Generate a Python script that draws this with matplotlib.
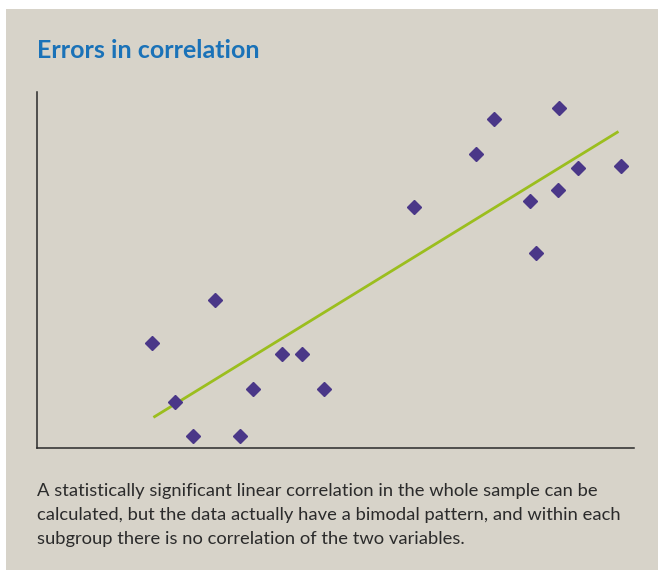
import numpy as np
import matplotlib
matplotlib.use("Agg")
import matplotlib.pyplot as plt
from matplotlib.patches import Rectangle

# data (arbitrary 0-100 units)
x_vals = [19.2, 29.8, 23.1, 26.2, 34.0, 36.2, 41.0, 44.4, 48.0,
          63.1, 73.5, 76.6, 87.5, 82.6, 87.2, 90.6, 97.8, 83.6]
y_vals = [29.6, 41.6, 12.8, 3.4, 3.4, 16.6, 26.4, 26.4, 16.6,
          67.8, 82.6, 92.5, 95.5, 69.3, 72.5, 78.7, 79.3, 54.8]
fit_x = [19.5, 97.4]
fit_y = [8.6, 88.9]

title = "Errors in correlation"
caption = [
    "A statistically significant linear correlation in the whole sample can be",
    "calculated, but the data actually have a bimodal pattern, and within each",
    "subgroup there is no correlation of the two variables.",
]

BG = "#d7d3c9"
W, H = 658, 570

fig = plt.figure(figsize=(W / 100, H / 100), dpi=100)
fig.patch.set_facecolor("white")
fig.patches.append(Rectangle((6 / W, 0), 1, 1 - 9 / H, transform=fig.transFigure,
                             facecolor=BG, edgecolor="none", zorder=-5))

ax = fig.add_axes([37 / W, 1 - 448 / H, (634 - 37) / W, (448 - 92) / H])
ax.set_zorder(2)
ax.set_facecolor("none")
ax.plot(fit_x, fit_y, color="#9bbe1e", lw=2.0, solid_capstyle="butt", zorder=2)
ax.plot(x_vals, y_vals, ls="none", marker="D", ms=7, color="#4a3788",
        mec="#4a3788", zorder=3)
ax.set_xlim(0, 100)
ax.set_ylim(0, 100)
for s in ["top", "right"]:
    ax.spines[s].set_visible(False)
for s in ["left", "bottom"]:
    ax.spines[s].set_color("#2a2a2a")
    ax.spines[s].set_linewidth(1.1)
ax.set_xticks([])
ax.set_yticks([])

fig.text(37 / W, 1 - 58 / H, title, color="#1a72b8", fontsize=18, fontweight="bold",
         family=["Lato", "DejaVu Sans"], va="baseline", ha="left")

for i, line in enumerate(caption):
    fig.text(37 / W, 1 - (496 + 24 * i) / H, line, color="#2b2b2b", fontsize=13.2,
             family=["Lato", "DejaVu Sans"], va="baseline", ha="left")

fig.savefig("out.png", dpi=100, facecolor=fig.get_facecolor())
